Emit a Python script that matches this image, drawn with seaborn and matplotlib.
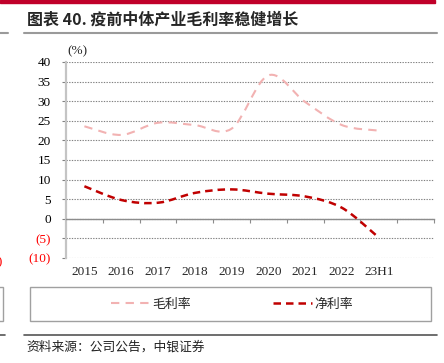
import numpy as np
import matplotlib
matplotlib.use("Agg")
import matplotlib.pyplot as plt
from matplotlib.path import Path
from matplotlib.patches import PathPatch, Rectangle
from matplotlib.lines import Line2D
import seaborn as sns

years = ['2015', '2016', '2017', '2018', '2019', '2020', '2021', '2022', '23H1']
gross_margin = [23.6, 21.4, 24.5, 23.9, 23.0, 36.6, 29.8, 23.9, 22.5]
net_margin = [8.3, 4.8, 4.1, 6.6, 7.5, 6.4, 5.7, 2.8, -4.8]
ytick_vals = [-10, -5, 0, 5, 10, 15, 20, 25, 30, 35, 40]
ytick_text = ['(10)', '(5)', '0', '5', '10', '15', '20', '25', '30', '35', '40']

sns.set_theme(style='white')
plt.rcParams['font.family'] = ['Liberation Serif', 'DejaVu Serif']
CJK = ['Noto Sans CJK SC', 'DejaVu Sans']

PINK = '#F2B2B2'
RED = '#C00000'


def smooth_path(xs, ys):
    # Excel-style smoothed line: cubic Bezier through the data points
    pts = np.column_stack([xs, ys]).astype(float)
    n = len(pts)
    verts = [pts[0]]
    codes = [Path.MOVETO]
    for i in range(n - 1):
        p0 = pts[i - 1] if i > 0 else pts[i]
        p1, p2 = pts[i], pts[i + 1]
        p3 = pts[i + 2] if i + 2 < n else pts[i + 1]
        verts += [p1 + (p2 - p0) / 6, p2 - (p3 - p1) / 6, p2]
        codes += [Path.CURVE4] * 3
    return Path(verts, codes)


fig = plt.figure(figsize=(4.44, 3.63), dpi=100)
ax = fig.add_axes([66 / 444, 1 - 258 / 363, 368 / 444, 196 / 363])

xpos = np.arange(len(years))
styles = [
    (gross_margin, PINK, 1.5, (0, (4, 3)), '毛利率'),
    (net_margin, RED, 1.8, (0, (3, 2)), '净利率'),
]
handles = []
for vals, col, lw, ls, lab in styles:
    ax.add_patch(PathPatch(smooth_path(xpos, vals), fill=False, edgecolor=col,
                           linewidth=lw, linestyle=ls, capstyle='butt', zorder=3))
    handles.append(Line2D([], [], color=col, linewidth=lw, linestyle=ls, label=lab))

ax.set_xlim(-0.5, len(years) - 0.5)
ax.set_ylim(-10, 40)

# y axis
ax.set_yticks(ytick_vals)
ax.set_yticklabels(ytick_text, fontsize=9.5)
for t, v in zip(ax.get_yticklabels(), ytick_vals):
    t.set_color('#FF0000' if v < 0 else 'black')
ax.tick_params(axis='y', length=3, width=0.8, color='#808080', pad=8, left=True)
ax.grid(axis='y', color='#808080', linestyle=(0, (1.2, 1.2)), linewidth=0.8)
ax.grid(axis='x', visible=False)

# x axis sits at zero, labels pushed to the bottom
ax.spines['bottom'].set_position(('data', 0))
ax.spines['bottom'].set_color('#8c8c8c')
ax.spines['bottom'].set_linewidth(1.0)
ax.set_xticks(xpos)
ax.set_xticklabels(years, fontsize=9.5)
ax.set_xticks(np.arange(-0.5, len(years), 1) + 1, minor=True)
ax.tick_params(axis='x', which='major', length=0, pad=34)
ax.tick_params(axis='x', which='minor', length=3, width=0.8, color='#8c8c8c',
               direction='out', bottom=True)
ax.spines['left'].set_color('#c4c4c4')
ax.spines['left'].set_linewidth(1.6)
for s in ['top', 'right']:
    ax.spines[s].set_visible(False)
ax.set_axisbelow(True)

ax.text(0.004, 1.055, '(%)', transform=ax.transAxes, fontsize=9.5,
        ha='left', va='center')

# header / frame decoration
fig.patches.append(Rectangle((0, 1 - 3.3 / 363), 435 / 444, 3.3 / 363,
                             transform=fig.transFigure, color='#C0002A', zorder=5))
fig.text(27 / 444, 1 - 20 / 363, '图表 40. 疫前中体产业毛利率稳健增长', family=CJK,
         fontsize=11.5, fontweight='bold', ha='left', va='center')
fig.add_artist(Line2D([24 / 444, 437 / 444], [1 - 33 / 363] * 2, color='#9a9a9a',
                      linewidth=1.5, transform=fig.transFigure))
fig.add_artist(Line2D([0, 8 / 444], [1 - 33 / 363] * 2, color='#9a9a9a',
                      linewidth=1.5, transform=fig.transFigure))

# legend box
fig.patches.append(Rectangle((30 / 444, 1 - 320.7 / 363), 401 / 444, 34 / 363,
                             transform=fig.transFigure, fill=False,
                             edgecolor='#a0a0a0', linewidth=1.0))
fig.legend(handles=handles, loc='center', bbox_to_anchor=(232 / 444, 1 - 304 / 363),
           ncol=2, frameon=False, prop={'family': CJK, 'size': 9.3},
           handlelength=3.0, handletextpad=0.2, columnspacing=6.4)

# bottom rule and source
fig.add_artist(Line2D([24 / 444, 437 / 444], [1 - 334.5 / 363] * 2, color='#555555',
                      linewidth=1.2, transform=fig.transFigure))
fig.add_artist(Line2D([0, 5 / 444], [1 - 334.5 / 363] * 2, color='#555555',
                      linewidth=1.2, transform=fig.transFigure))
fig.text(26 / 444, 1 - 347 / 363, '资料来源：公司公告，中银证券', family=CJK,
         fontsize=9.2, ha='left', va='center', color='#222222')

# fragments of the neighbouring column
fig.text(3 / 444, 1 - 262 / 363, '(10)', fontsize=9.5, color='#FF0000',
         ha='right', va='center')
fig.patches.append(Rectangle((-0.1, 1 - 320.7 / 363), 0.1 + 3 / 444, 34 / 363,
                             transform=fig.transFigure, fill=False,
                             edgecolor='#a0a0a0', linewidth=1.0))

fig.savefig('out.png', dpi=100)
